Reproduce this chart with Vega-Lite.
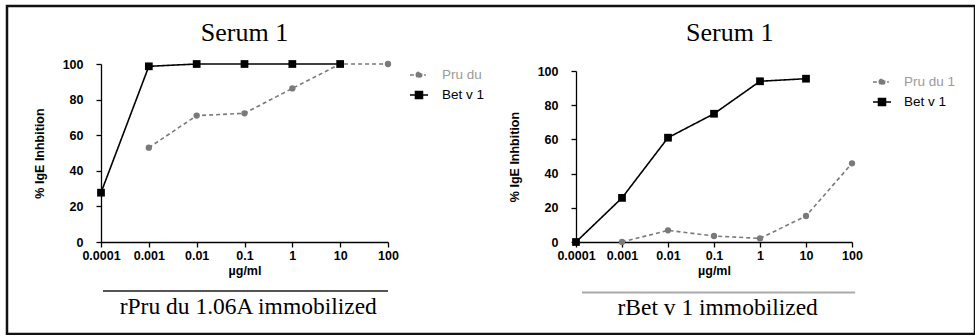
{
  "$schema": "https://vega.github.io/schema/vega-lite/v6.json",
  "width": 968,
  "height": 328,
  "autosize": {"type": "none"},
  "padding": {"left": 7, "top": 6, "right": 0, "bottom": 1},
  "background": "white",
  "config": {
    "view": {"stroke": "#111", "strokeWidth": 2.5, "fill": "white"},
    "axis": {
      "grid": false,
      "domainColor": "#000",
      "tickColor": "#000",
      "domainWidth": 1.3,
      "tickWidth": 1.3,
      "tickSize": 5,
      "labelFont": "Liberation Sans",
      "labelFontWeight": "bold",
      "labelFontSize": 12.5,
      "labelColor": "#000",
      "titleFont": "Liberation Sans",
      "titleFontWeight": "bold",
      "titleFontSize": 12.5,
      "titleColor": "#000",
      "labelFlush": false,
      "labelOverlap": false
    },
    "legend": {
      "labelFont": "Liberation Sans",
      "labelFontSize": 13.5,
      "padding": 0,
      "rowPadding": 6,
      "symbolSize": 144
    }
  },
  "layer": [
    {
      "data": {"values": [
        {"series": "Pru du", "x": 0.001, "y": 53},
        {"series": "Pru du", "x": 0.01, "y": 71},
        {"series": "Pru du", "x": 0.1, "y": 72.3},
        {"series": "Pru du", "x": 1, "y": 86.3},
        {"series": "Pru du", "x": 10, "y": 100},
        {"series": "Pru du", "x": 100, "y": 100},
        {"series": "Bet v 1", "x": 0.0001, "y": 27.7},
        {"series": "Bet v 1", "x": 0.001, "y": 98.7},
        {"series": "Bet v 1", "x": 0.01, "y": 100},
        {"series": "Bet v 1", "x": 0.1, "y": 100},
        {"series": "Bet v 1", "x": 1, "y": 100},
        {"series": "Bet v 1", "x": 10, "y": 100}
      ]},
      "encoding": {
        "x": {"field": "x", "type": "quantitative",
          "scale": {"type": "log", "domain": [0.0001, 100], "range": [94, 381]},
          "axis": {"orient": "bottom", "offset": -92, "values": [0.0001, 0.001, 0.01, 0.1, 1, 10, 100], "format": "~g", "labelPadding": 2, "title": "µg/ml", "titlePadding": 3}},
        "y": {"field": "y", "type": "quantitative",
          "scale": {"domain": [0, 100], "range": [236, 58]},
          "axis": {"orient": "left", "offset": -94, "values": [0, 20, 40, 60, 80, 100], "labelPadding": 13, "title": "% IgE Inhbition", "titlePadding": 16}}
      },
      "layer": [
        {
          "mark": {"type": "line", "strokeWidth": 1.6},
          "encoding": {
            "color": {"field": "series", "type": "nominal", "scale": {"domain": ["Pru du", "Bet v 1"], "range": ["#7a7a7a", "#000000"]},
              "legend": {"title": null, "orient": "none", "legendX": 405, "legendY": 62, "labelOffset": 16,
                "encode": {
                  "symbols": {"update": {
                    "shape": {"signal": "datum.value === 'Bet v 1' ? 'M-1.5,0H1.5M-0.58,-0.58H0.58V0.58H-0.58Z' : 'M-1.5,0H-0.85M-0.45,0A0.45,0.45,0,1,1,0.45,0A0.45,0.45,0,1,1,-0.45,0ZM0.85,0H1.15'"},
                    "fill": {"signal": "datum.value === 'Bet v 1' ? '#000' : '#7a7a7a'"},
                    "stroke": {"signal": "datum.value === 'Bet v 1' ? '#000' : '#7a7a7a'"},
                    "strokeWidth": {"value": 1.6},
                    "strokeDash": {"value": [1, 0]},
                    "size": {"value": 144},
                    "opacity": {"value": 1}
                  }},
                  "labels": {"update": {"fill": {"signal": "datum.value === 'Bet v 1' ? '#000' : '#9a9a9a'"}}}
                }}},
            "strokeDash": {"field": "series", "type": "nominal", "scale": {"domain": ["Pru du", "Bet v 1"], "range": [[4, 3], [1, 0]]}, "legend": null}
          }
        },
        {
          "transform": [{"filter": "datum.series === 'Pru du'"}],
          "mark": {"type": "circle", "size": 40, "color": "#7a7a7a", "opacity": 1}
        },
        {
          "transform": [{"filter": "datum.series === 'Bet v 1'"}],
          "mark": {"type": "square", "size": 60, "color": "#000", "opacity": 1}
        },
        {
          "data": {"values": [{"x": 0.1, "y": 113, "label": "Serum 1"}]},
          "mark": {"type": "text", "font": "Liberation Serif", "fontSize": 26, "baseline": "alphabetic", "align": "center", "color": "#000"},
          "encoding": {"text": {"field": "label"}}
        },
        {
          "data": {"values": [{"x": 0.12, "y": -40.7, "label": "rPru du 1.06A immobilized"}]},
          "mark": {"type": "text", "font": "Liberation Serif", "fontSize": 23.5, "baseline": "alphabetic", "align": "center", "color": "#000"},
          "encoding": {"text": {"field": "label"}}
        },
        {
          "data": {"values": [{"x": 0.00011, "x2": 100, "y": -27.5}]},
          "mark": {"type": "rule", "color": "#555", "strokeWidth": 2},
          "encoding": {"x2": {"field": "x2"}}
        }
      ]
    },
    {
      "data": {"values": [
        {"series": "Pru du 1", "x": 0.001, "y": 0},
        {"series": "Pru du 1", "x": 0.01, "y": 6.8},
        {"series": "Pru du 1", "x": 0.1, "y": 3.5},
        {"series": "Pru du 1", "x": 1, "y": 2.1},
        {"series": "Pru du 1", "x": 10, "y": 15.2},
        {"series": "Pru du 1", "x": 100, "y": 46},
        {"series": "Bet v 1", "x": 0.0001, "y": 0},
        {"series": "Bet v 1", "x": 0.001, "y": 25.8},
        {"series": "Bet v 1", "x": 0.01, "y": 61},
        {"series": "Bet v 1", "x": 0.1, "y": 75},
        {"series": "Bet v 1", "x": 1, "y": 94},
        {"series": "Bet v 1", "x": 10, "y": 95.5}
      ]},
      "encoding": {
        "x": {"field": "x", "type": "quantitative",
          "scale": {"type": "log", "domain": [0.0001, 100], "range": [569, 845]},
          "axis": {"orient": "bottom", "offset": -92, "values": [0.0001, 0.001, 0.01, 0.1, 1, 10, 100], "format": "~g", "labelPadding": 2, "title": "µg/ml", "titlePadding": 3}},
        "y": {"field": "y", "type": "quantitative",
          "scale": {"domain": [0, 100], "range": [236, 65]},
          "axis": {"orient": "left", "offset": -569, "values": [0, 20, 40, 60, 80, 100], "labelPadding": 13, "title": "% IgE Inhbition", "titlePadding": 16}}
      },
      "layer": [
        {
          "mark": {"type": "line", "strokeWidth": 1.6},
          "encoding": {
            "color": {"field": "series", "type": "nominal", "scale": {"domain": ["Pru du 1", "Bet v 1"], "range": ["#7a7a7a", "#000000"]},
              "legend": {"title": null, "orient": "none", "legendX": 868, "legendY": 69, "labelOffset": 15,
                "encode": {
                  "symbols": {"update": {
                    "shape": {"signal": "datum.value === 'Bet v 1' ? 'M-1.5,0H1.5M-0.58,-0.58H0.58V0.58H-0.58Z' : 'M-1.5,0H-0.85M-0.45,0A0.45,0.45,0,1,1,0.45,0A0.45,0.45,0,1,1,-0.45,0ZM0.85,0H1.15'"},
                    "fill": {"signal": "datum.value === 'Bet v 1' ? '#000' : '#7a7a7a'"},
                    "stroke": {"signal": "datum.value === 'Bet v 1' ? '#000' : '#7a7a7a'"},
                    "strokeWidth": {"value": 1.6},
                    "strokeDash": {"value": [1, 0]},
                    "size": {"value": 144},
                    "opacity": {"value": 1}
                  }},
                  "labels": {"update": {"fill": {"signal": "datum.value === 'Bet v 1' ? '#000' : '#9a9a9a'"}}}
                }}},
            "strokeDash": {"field": "series", "type": "nominal", "scale": {"domain": ["Pru du 1", "Bet v 1"], "range": [[4, 3], [1, 0]]}, "legend": null}
          }
        },
        {
          "transform": [{"filter": "datum.series === 'Pru du 1'"}],
          "mark": {"type": "circle", "size": 40, "color": "#7a7a7a", "opacity": 1}
        },
        {
          "transform": [{"filter": "datum.series === 'Bet v 1'"}],
          "mark": {"type": "square", "size": 60, "color": "#000", "opacity": 1}
        },
        {
          "data": {"values": [{"x": 0.22, "y": 117.5, "label": "Serum 1"}]},
          "mark": {"type": "text", "font": "Liberation Serif", "fontSize": 26, "baseline": "alphabetic", "align": "center", "color": "#000"},
          "encoding": {"text": {"field": "label"}}
        },
        {
          "data": {"values": [{"x": 0.12, "y": -42.4, "label": "rBet v 1 immobilized"}]},
          "mark": {"type": "text", "font": "Liberation Serif", "fontSize": 23.5, "baseline": "alphabetic", "align": "center", "color": "#000"},
          "encoding": {"text": {"field": "label"}}
        },
        {
          "data": {"values": [{"x": 0.000135, "x2": 117, "y": -29.6}]},
          "mark": {"type": "rule", "color": "#aaa", "strokeWidth": 2},
          "encoding": {"x2": {"field": "x2"}}
        }
      ]
    }
  ],
  "resolve": {
    "scale": {"x": "independent", "y": "independent", "color": "independent", "strokeDash": "independent"},
    "axis": {"x": "independent", "y": "independent"},
    "legend": {"color": "independent"}
  }
}
